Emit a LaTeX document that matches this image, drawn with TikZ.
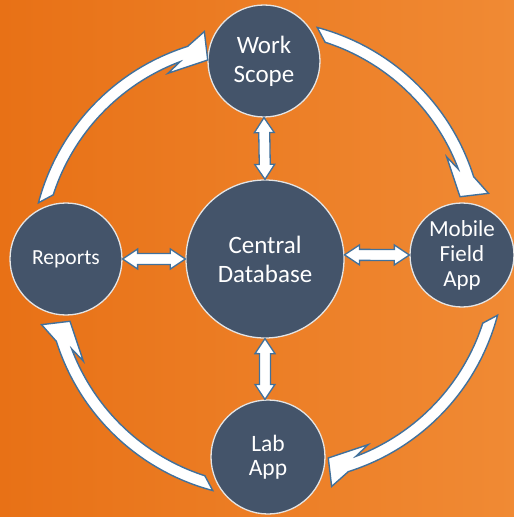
\documentclass[tikz,border=0pt]{standalone}
\usepackage{fontspec}
\setmainfont{Carlito}
\usetikzlibrary{calc}
\definecolor{bgL}{RGB}{232,113,22}
\definecolor{bgR}{RGB}{240,138,52}
\definecolor{slate}{HTML}{44546A}
\definecolor{ring}{HTML}{E4E4E4}
\definecolor{edgeblue}{HTML}{41719C}
\tikzset{
  circnode/.style={circle, fill=slate, draw=ring, line width=1.3pt, text=white, align=center, inner sep=0pt},
  dblarrow/.style={fill=white, draw=edgeblue, line width=1.3pt, line join=miter},
  curvedarrow/.style={fill=white, draw=edgeblue, line width=1.4pt, line join=miter},
}
\newcommand\dblarr[2]{%
  \path[dblarrow] (#1)
   -- ($(#1)!15pt!(#2)!10pt!90:(#2)$)
   -- ($(#1)!15pt!(#2)!5.5pt!90:(#2)$)
   -- ($(#2)!15pt!(#1)!5.5pt!-90:(#1)$)
   -- ($(#2)!15pt!(#1)!10pt!-90:(#1)$)
   -- (#2)
   -- ($(#2)!15pt!(#1)!10pt!90:(#1)$)
   -- ($(#2)!15pt!(#1)!5.5pt!90:(#1)$)
   -- ($(#1)!15pt!(#2)!5.5pt!-90:(#2)$)
   -- ($(#1)!15pt!(#2)!10pt!-90:(#2)$)
   -- cycle;}
\newcommand\curvarr{%
  \path[curvedarrow] (75.2:224) arc[start angle=75.2,end angle=17.5,radius=224]
   -- (12.5:234) -- (13.3:205.5) -- (25:206) -- (20.7:212)
   arc[start angle=20.7,end angle=72.1,radius=212] -- cycle;}
\begin{document}
\begin{tikzpicture}[x=1pt,y=1pt]
\useasboundingbox (-265,-258) rectangle (249,259);
\fill[left color=bgL,right color=bgR] (-265,-258) rectangle (249,259);

\node[circnode, minimum size=158pt, font=\fontsize{25}{29}\selectfont] (cd) at (0,0) {Central\\Database};
\node[circnode, minimum size=112pt, font=\fontsize{25}{29}\selectfont] (ws) at (-1,198) {Work\\Scope};
\node[circnode, minimum size=112pt, font=\fontsize{21.5}{26}\selectfont] (rp) at (-199,0) {Reports};
\node[circnode, minimum size=104pt, font=\fontsize{23}{25}\selectfont] (mf) at (197,4) {Mobile\\Field\\App};
\node[circnode, minimum size=114pt, font=\fontsize{23.5}{24}\selectfont] (la) at (3,-198) {Lab\\App};

\dblarr{ws.south}{cd.north}
\dblarr{rp.east}{cd.west}
\dblarr{cd.3}{mf.west}
\dblarr{cd.south}{la.93}

\begin{scope}[shift={(cd.center)},rotate=0,shift={(-5,15)}]\curvarr\end{scope}
\begin{scope}[shift={(cd.center)},rotate=-90,shift={(-5,15)},shift={(4,1)}]\curvarr\end{scope}
\begin{scope}[shift={(cd.center)},rotate=-180,shift={(-5,15)}]\curvarr\end{scope}
\begin{scope}[shift={(cd.center)},rotate=90,shift={(-5,15)},shift={(4,-5)}]\curvarr\end{scope}
\end{tikzpicture}
\end{document}
